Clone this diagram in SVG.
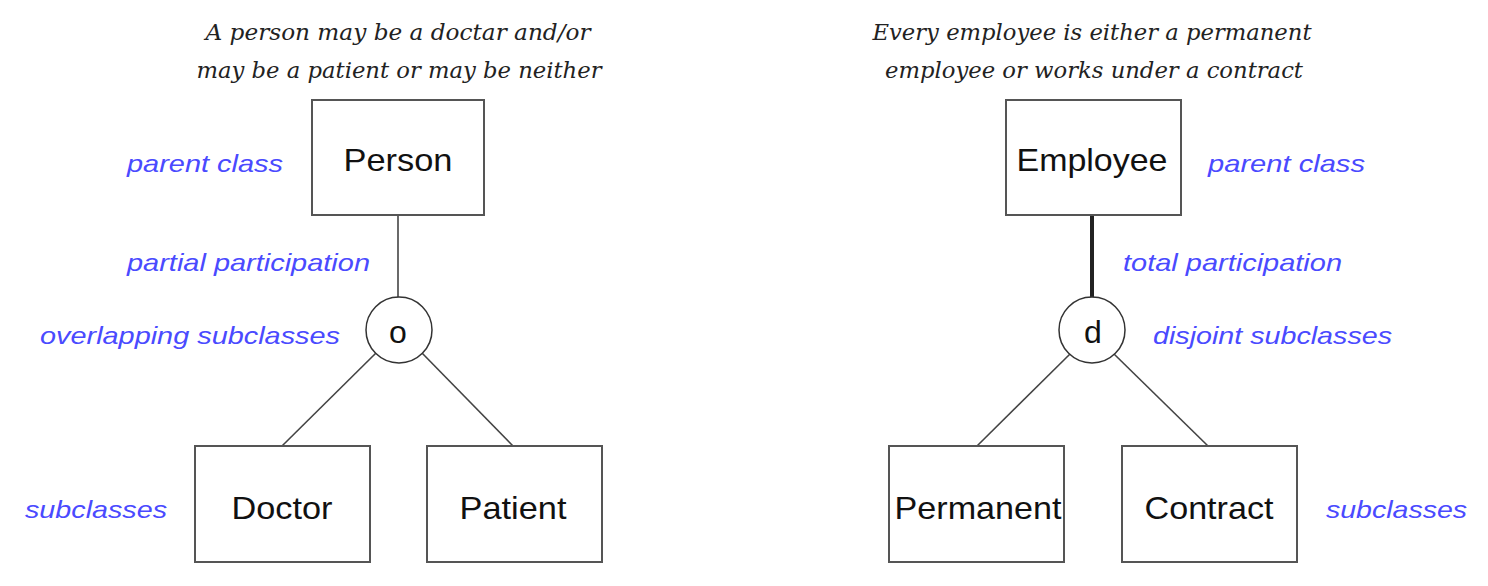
<svg xmlns="http://www.w3.org/2000/svg" width="1488" height="586" viewBox="0 0 1488 586">
<style>
.box{fill:#fff;stroke:#555;stroke-width:2}
.circ{fill:#fff;stroke:#333;stroke-width:1.5}
.name{font-family:"Liberation Sans",Arial,sans-serif;font-size:32px;fill:#111}
.lbl{font-family:"Liberation Sans",Arial,sans-serif;font-style:italic;font-size:24px;fill:#4a4aff}
.title{font-family:"DejaVu Serif","Liberation Serif",serif;font-style:italic;font-size:22px;fill:#222}
.ln{stroke:#444;stroke-width:1.6;fill:none}
.thick{stroke:#222;stroke-width:4;fill:none}
</style>
<rect width="1488" height="586" fill="#fff"/>
<g id="connectors">
<line class="ln" x1="398" y1="215" x2="398" y2="297"/>
<line class="ln" x1="376" y1="353" x2="282" y2="446"/>
<line class="ln" x1="422" y1="353" x2="513" y2="446"/>
<line class="thick" x1="1092" y1="215" x2="1092" y2="298"/>
<line class="ln" x1="1070" y1="354" x2="977" y2="446"/>
<line class="ln" x1="1114" y1="354" x2="1208" y2="446"/>
</g>
<g id="title-left">
<text class="title" x="398" y="40" text-anchor="middle" textLength="385" lengthAdjust="spacingAndGlyphs">A person may be a doctar and/or</text>
<text class="title" x="399" y="78" text-anchor="middle" textLength="405" lengthAdjust="spacingAndGlyphs">may be a patient or may be neither</text>
</g>
<g id="title-right">
<text class="title" x="1092" y="40" text-anchor="middle" textLength="439" lengthAdjust="spacingAndGlyphs">Every employee is either a permanent</text>
<text class="title" x="1094" y="78" text-anchor="middle" textLength="418" lengthAdjust="spacingAndGlyphs">employee or works under a contract</text>
</g>
<g id="person">
<rect class="box" x="312" y="100" width="172" height="115"/>
<text class="name" x="398" y="171" text-anchor="middle" textLength="109" lengthAdjust="spacingAndGlyphs">Person</text>
</g>
<g id="overlap">
<circle class="circ" cx="399" cy="330" r="33"/>
<text class="name" x="398" y="343" text-anchor="middle">o</text>
</g>
<g id="doctor">
<rect class="box" x="195" y="446" width="175" height="116"/>
<text class="name" x="282" y="519" text-anchor="middle" textLength="101" lengthAdjust="spacingAndGlyphs">Doctor</text>
</g>
<g id="patient">
<rect class="box" x="427" y="446" width="175" height="116"/>
<text class="name" x="513" y="519" text-anchor="middle" textLength="107" lengthAdjust="spacingAndGlyphs">Patient</text>
</g>
<g id="employee">
<rect class="box" x="1006" y="100" width="175" height="115"/>
<text class="name" x="1092" y="171" text-anchor="middle" textLength="151" lengthAdjust="spacingAndGlyphs">Employee</text>
</g>
<g id="disjoint">
<circle class="circ" cx="1092" cy="330" r="33"/>
<text class="name" x="1093" y="343" text-anchor="middle">d</text>
</g>
<g id="permanent">
<rect class="box" x="889" y="446" width="175" height="116"/>
<text class="name" x="978" y="519" text-anchor="middle" textLength="167" lengthAdjust="spacingAndGlyphs">Permanent</text>
</g>
<g id="contract">
<rect class="box" x="1122" y="446" width="175" height="116"/>
<text class="name" x="1209" y="519" text-anchor="middle" textLength="129" lengthAdjust="spacingAndGlyphs">Contract</text>
</g>
<g id="labels">
<text class="lbl" x="127" y="172" textLength="156" lengthAdjust="spacingAndGlyphs">parent class</text>
<text class="lbl" x="127" y="271" textLength="243" lengthAdjust="spacingAndGlyphs">partial participation</text>
<text class="lbl" x="40" y="344" textLength="300" lengthAdjust="spacingAndGlyphs">overlapping subclasses</text>
<text class="lbl" x="25" y="518" textLength="142" lengthAdjust="spacingAndGlyphs">subclasses</text>
<text class="lbl" x="1208" y="172" textLength="157" lengthAdjust="spacingAndGlyphs">parent class</text>
<text class="lbl" x="1123" y="271" textLength="219" lengthAdjust="spacingAndGlyphs">total participation</text>
<text class="lbl" x="1153" y="344" textLength="239" lengthAdjust="spacingAndGlyphs">disjoint subclasses</text>
<text class="lbl" x="1326" y="518" textLength="141" lengthAdjust="spacingAndGlyphs">subclasses</text>
</g>
</svg>
